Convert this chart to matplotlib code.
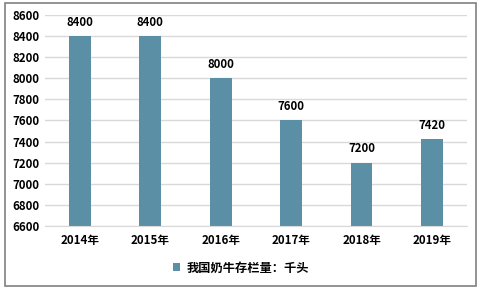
import matplotlib
matplotlib.use("Agg")
import matplotlib.pyplot as plt
from matplotlib.patches import Rectangle

plt.rcParams['font.family'] = ['Noto Sans CJK SC', 'DejaVu Sans']

years = ["2014年", "2015年", "2016年", "2017年", "2018年", "2019年"]
values = [8400, 8400, 8000, 7600, 7200, 7420]
series_name = "我国奶牛存栏量：千头"
yticks = list(range(6600, 8601, 200))

bar_color = "#5B8FA6"
grid_color = "#D9D9D9"

fig = plt.figure(figsize=(4.82, 2.92), dpi=100)
ax = fig.add_axes([0.093, 0.226, 0.876, 0.723])

x = range(len(years))
bars = ax.bar(x, values, width=0.31, color=bar_color, label=series_name, zorder=2)

for xi, v in zip(x, values):
    ax.text(xi, v + 70, str(v), ha="center", va="bottom", fontsize=8.2,
            fontweight="bold", color="black")

ax.set_ylim(6600, 8600)
ax.set_xlim(-0.5, len(years) - 0.5)
ax.set_yticks(yticks)
ax.set_xticks(list(x))
ax.set_xticklabels(years)
ax.yaxis.grid(True, color=grid_color, linewidth=1, zorder=0)
ax.set_axisbelow(True)
for s in ["top", "right", "left"]:
    ax.spines[s].set_visible(False)
ax.spines["bottom"].set_color(grid_color)
ax.tick_params(axis="both", length=0, labelsize=8.3)
ax.tick_params(axis="x", pad=6)
ax.tick_params(axis="y", pad=4)
for lab in ax.get_xticklabels() + ax.get_yticklabels():
    lab.set_fontweight("bold")

fig.legend(handles=[bars], labels=[series_name], loc="center",
           bbox_to_anchor=(0.5, 0.082), frameon=False, handlelength=0.6,
           handleheight=0.6, handletextpad=0.5,
           prop={"size": 8.8, "weight": "bold", "family": ['Noto Sans CJK SC', 'DejaVu Sans']})

# outer border
fig.patches.append(Rectangle((5 / 482, 1 - 286 / 292), 471 / 482, 283 / 292,
                             transform=fig.transFigure, fill=False,
                             edgecolor="#808080", linewidth=1.2))

fig.savefig("out.png", dpi=100)
